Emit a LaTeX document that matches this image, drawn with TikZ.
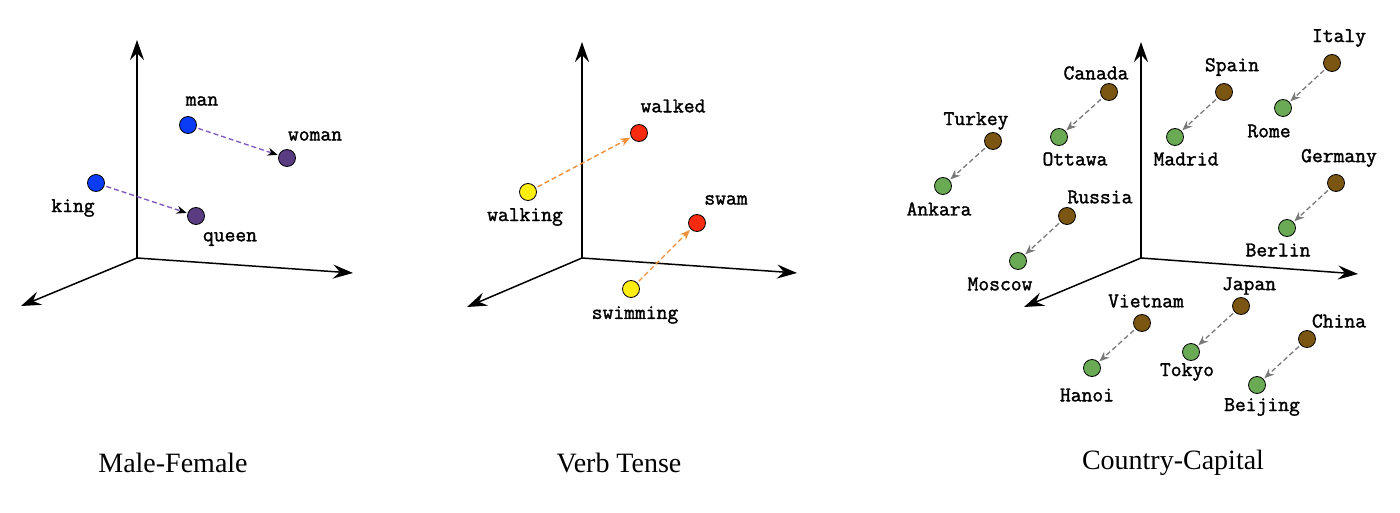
\documentclass[tikz,border=0pt]{standalone}
\usepackage{fontspec}
\setmainfont{Liberation Serif}
\newfontfamily\labfont[FakeBold=1.6]{Latin Modern Mono}
\usetikzlibrary{arrows.meta}
\definecolor{cblue}{HTML}{0A3CF5}
\definecolor{cpurple}{HTML}{5A3C82}
\definecolor{lpurple}{HTML}{7E5BBE}
\definecolor{cyellow}{HTML}{FFEE10}
\definecolor{cred}{HTML}{F82A10}
\definecolor{lorange}{HTML}{F0903A}
\definecolor{cbrown}{HTML}{7B5612}
\definecolor{cgreen}{HTML}{6BAA55}
\definecolor{lgray}{HTML}{7A7A7A}
\begin{document}
\begin{tikzpicture}[x=1pt,y=-1pt,
  dot/.style={circle, draw=black, line width=0.8pt, minimum size=17pt, inner sep=0pt},
  lab/.style={font=\labfont\bfseries\fontsize{21}{22}\selectfont, inner sep=0pt},
  ttl/.style={font=\fontsize{28}{30}\selectfont, inner sep=0pt},
  axis/.style={line width=1.5pt, -{Stealth[length=20pt,width=14pt,inset=7pt]}},
  vec/.style={dash pattern=on 5pt off 3pt, line width=1.4pt, shorten >=1pt, shorten <=2pt, -{Stealth[length=10pt,width=8pt]}}]
\useasboundingbox (0,0) rectangle (1400,513);
% ---------- Panel 1 ----------
\coordinate (o1) at (137,258);
\coordinate (u1) at (137,40);
\coordinate (r1) at (353,273);
\coordinate (f1) at (21,306);
\draw[axis] (o1) -- (u1);
\draw[axis] (o1) -- (r1);
\draw[axis] (o1) -- (f1);
\node[dot, fill=cblue] (man) at (188,125) {};
\node[dot, fill=cpurple] (woman) at (287,158) {};
\node[dot, fill=cblue] (king) at (96,183) {};
\node[dot, fill=cpurple] (queen) at (196,216) {};
\node[lab] (lman) at (202,101) {man};
\node[lab] (lwoman) at (315,136) {woman};
\node[lab] (lking) at (73,208) {king};
\node[lab] (lqueen) at (230,239) {queen};
\draw[vec, draw=lpurple, -{Stealth[length=10pt,width=8pt,fill=black,color=black]}] (man) -- (woman);
\draw[vec, draw=lpurple, -{Stealth[length=10pt,width=8pt,fill=black,color=black]}] (king) -- (queen);
\node[ttl] (t1) at (173,463) {Male-Female};
% ---------- Panel 2 ----------
\coordinate (o2) at (582,258);
\coordinate (u2) at (582,42);
\coordinate (r2) at (797,273);
\coordinate (f2) at (467,307);
\draw[axis] (o2) -- (u2);
\draw[axis] (o2) -- (r2);
\draw[axis] (o2) -- (f2);
\node[dot, fill=cred] (walked) at (639,133) {};
\node[dot, fill=cyellow] (walking) at (528,192) {};
\node[dot, fill=cred] (swam) at (697,223) {};
\node[dot, fill=cyellow] (swimming) at (631,289) {};
\node[lab] (lwalked) at (673,106) {walked};
\node[lab] (lwalking) at (525,217) {walking};
\node[lab] (lswam) at (726,200) {swam};
\node[lab] (lswimming) at (635,315) {swimming};
\draw[vec, draw=lorange] (walking) -- (walked);
\draw[vec, draw=lorange] (swimming) -- (swam);
\node[ttl] (t2) at (619,463) {Verb Tense};
% ---------- Panel 3 ----------
\coordinate (o3) at (1141,258);
\coordinate (u3) at (1141,42);
\coordinate (r3) at (1358,274);
\coordinate (f3) at (1024,307);
\draw[axis] (o3) -- (u3);
\draw[axis] (o3) -- (r3);
\draw[axis] (o3) -- (f3);
\foreach \n/\cx/\cy/\lx/\ly/\t in {
  italy/1332/63/1339/38/Italy, rome/1283/108/1269/131/Rome,
  spain/1224/92/1232/67/Spain, madrid/1175/137/1186/159/Madrid,
  canada/1109/92/1096/73/Canada, ottawa/1059/137/1075/159/Ottawa,
  turkey/993/141/976/121/Turkey, ankara/943/186/939/209/Ankara,
  russia/1067/216/1100/197/Russia, moscow/1018/261/1000/284/Moscow,
  germany/1336/183/1339/158/Germany, berlin/1287/228/1278/250/Berlin,
  japan/1241/306/1249/286/Japan, tokyo/1191/352/1187/372/Tokyo,
  vietnam/1142/323/1146/301/Vietnam, hanoi/1092/368/1087/395/Hanoi,
  china/1307/339/1339/321/China, beijing/1257/385/1262/407/Beijing}
  {\node[lab] (l\n) at (\lx,\ly) {\t};}
\foreach \c/\cx/\cy/\k/\kx/\ky in {
  italy/1332/63/rome/1283/108, spain/1224/92/madrid/1175/137,
  canada/1109/92/ottawa/1059/137, turkey/993/141/ankara/943/186,
  russia/1067/216/moscow/1018/261, germany/1336/183/berlin/1287/228,
  japan/1241/306/tokyo/1191/352, vietnam/1142/323/hanoi/1092/368,
  china/1307/339/beijing/1257/385}
  {\node[dot, fill=cbrown] (\c) at (\cx,\cy) {};
   \node[dot, fill=cgreen] (\k) at (\kx,\ky) {};
   \draw[vec, draw=lgray, line width=1.3pt] (\c) -- (\k);}
\node[ttl] (t3) at (1173,463) {Country-Capital};
\end{tikzpicture}
\end{document}
